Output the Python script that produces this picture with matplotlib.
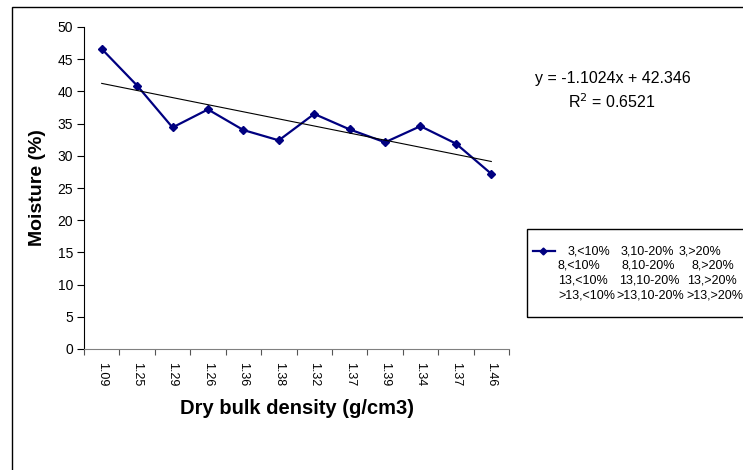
import matplotlib
matplotlib.use("Agg")
import matplotlib.pyplot as plt
from matplotlib.patches import Rectangle
from matplotlib.lines import Line2D
import numpy as np

plt.rcParams['font.family'] = ['Liberation Sans', 'DejaVu Sans']

# ---------------- data ----------------
density_labels = ["1.09", "1.25", "1.29", "1.26", "1.36", "1.38",
                  "1.32", "1.37", "1.39", "1.34", "1.37", "1.46"]
moisture = [46.6, 40.9, 34.4, 37.2, 34.0, 32.4, 36.5, 34.1, 32.1, 34.6, 31.9, 27.2]
trend_slope = -1.1024
trend_intercept = 42.346
r_squared = 0.6521
legend_rows = [["3,<10%", "3,10-20%", "3,>20%"],
               ["8,<10%", "8,10-20%", "8,>20%"],
               ["13,<10%", "13,10-20%", "13,>20%"],
               [">13,<10%", ">13,10-20%", ">13,>20%"]]

W, H = 743, 470
fig = plt.figure(figsize=(W / 100, H / 100), dpi=100)

def fx(px):
    return px / W

def fy(py):
    return 1 - py / H

# outer chart frame (runs off right and bottom)
fig.patches.append(Rectangle((fx(12), fy(480)), fx(760) - fx(12), fy(7) - fy(480),
                             transform=fig.transFigure, fill=False, ec="black", lw=1))

ax = fig.add_axes([fx(84), fy(349), fx(509) - fx(84), fy(27) - fy(349)])

x = np.arange(len(moisture))
ax.plot(x, moisture, color="#000080", marker="D", markersize=4, lw=1.6)
trend_x = x + 1  # Excel trendline uses 1-based category index
ax.plot(x, trend_slope * trend_x + trend_intercept, color="black", lw=0.8)

ax.set_xlim(-0.5, len(moisture) - 0.5)
ax.set_ylim(0, 50)
ax.set_yticks(np.arange(0, 51, 5))
ax.set_xticks(np.arange(-0.5, len(moisture), 1.0))
ax.set_xticklabels([])
ax.set_xticks(x, minor=True)
ax.set_xticklabels(density_labels, minor=True, rotation=270, fontsize=9)
ax.tick_params(axis="x", which="minor", length=0, pad=9.5)
ax.tick_params(axis="x", which="major", length=4, direction="out", color="#555555")
ax.tick_params(axis="y", length=5, labelsize=10, pad=3)
for s in ["top", "right"]:
    ax.spines[s].set_visible(False)
ax.spines["bottom"].set_color("#808080")

ax.set_ylabel("Moisture (%)", fontsize=14, fontweight="bold", labelpad=8)
ax.set_xlabel("Dry bulk density (g/cm3)", fontsize=14.5, fontweight="bold", labelpad=9)

# trendline equation
fig.text(fx(613), fy(78), f"y = {trend_slope}x + {trend_intercept}", ha="center", va="center", fontsize=11.5)
fig.text(fx(612), fy(102), f"R$^2$ = {r_squared}", ha="center", va="center", fontsize=11.5)

# legend box drawn by hand (single entry with a long label)
fig.patches.append(Rectangle((fx(527), fy(317)), fx(760) - fx(527), fy(229) - fy(317),
                             transform=fig.transFigure, fill=False, ec="black", lw=1))
fig.lines.append(Line2D([fx(533), fx(555)], [fy(251), fy(251)], transform=fig.transFigure,
                        color="#000080", lw=1.6))
fig.lines.append(Line2D([fx(543)], [fy(251)], transform=fig.transFigure,
                        color="#000080", marker="D", markersize=3.5, lw=0))
col_x = [[568, 621, 679], [558, 622, 691], [558, 619, 687], [558, 616, 686]]
for r, row in enumerate(legend_rows):
    for c, label in enumerate(row):
        fig.text(fx(col_x[r][c]), fy(251 + r * 14.7), label, ha="left", va="center", fontsize=9)

fig.savefig("out.png", dpi=100)
